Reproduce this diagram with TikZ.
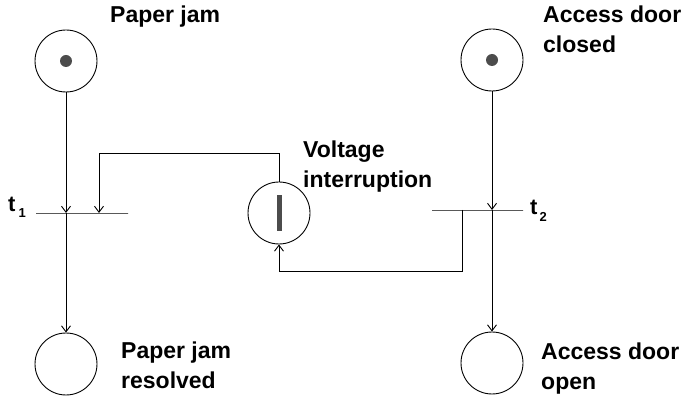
\documentclass[tikz,border=0pt]{standalone}
\usepackage{fontspec}
\setmainfont{Liberation Sans}
\usetikzlibrary{arrows.meta}
\tikzset{
  place/.style={circle, draw, line width=0.9pt, minimum size=62pt, inner sep=0pt},
  token/.style={circle, fill=black!70, inner sep=0pt, minimum size=12pt},
  barmark/.style={rectangle, fill=black!70, inner sep=0pt, minimum width=5pt, minimum height=36pt},
  trans/.style={rectangle, draw, line width=0.9pt, inner sep=0pt, minimum height=0pt},
  arc/.style={line width=0.9pt, -{Straight Barb[length=6pt,width=9pt]}},
  lbl/.style={anchor=north west, inner sep=0pt, align=left, font=\fontsize{23}{29.5}\selectfont\bfseries},
  tlbl/.style={anchor=base west, inner sep=0pt, font=\fontsize{22}{24}\selectfont\bfseries}
}
\begin{document}
\begin{tikzpicture}[x=1pt, y=-1pt]
\useasboundingbox (0,0) rectangle (681,398);
% places
\node[place] (p1) at (66,61) {};
\node[place] (p2) at (492,60) {};
\node[place] (p3) at (66,364) {};
\node[place] (p4) at (492,363) {};
\node[place] (v) at (279,213) {};
% tokens
\node[token] (k1) at (p1) {};
\node[token] (k2) at (p2) {};
\node[barmark] (k3) at (v) {};
% transitions
\node[trans, minimum width=92pt] (t1) at (82,213) {};
\node[trans, minimum width=91pt] (t2) at (477.5,210) {};
% corner coordinates
\coordinate (c1) at (99,153);
\coordinate (c2) at (462,271);
% arcs
\draw[arc] (p1.south) -- (p1.south |- t1.center);
\draw[arc] (p3.north |- t1.center) -- (p3.north);
\draw[arc] (p2.south) -- (p2.south |- t2.center);
\draw[arc] (p4.north |- t2.center) -- (p4.north);
\draw[arc] (v.north) |- (c1) -- (c1 |- t1.center);
\draw[arc] (c2 |- t2.center) -- (c2) -| (v.south);
% labels
\node[lbl] (l1) at (110,6) {Paper jam};
\node[lbl] (l2) at (543,6) {Access door\\closed};
\node[lbl] (lv) at (303,141) {Voltage\\interruption};
\node[lbl] (l3) at (121,342) {Paper jam\\resolved};
\node[lbl] (l4) at (541,343) {Access door\\open};
\node[tlbl] (lt1) at (8,212) {t\hspace{3pt}\raisebox{-6pt}{\fontsize{13}{13}\selectfont 1}};
\node[tlbl] (lt2) at (530,215) {t\hspace{2pt}\raisebox{-7pt}{\fontsize{13}{13}\selectfont 2}};
\end{tikzpicture}
\end{document}
